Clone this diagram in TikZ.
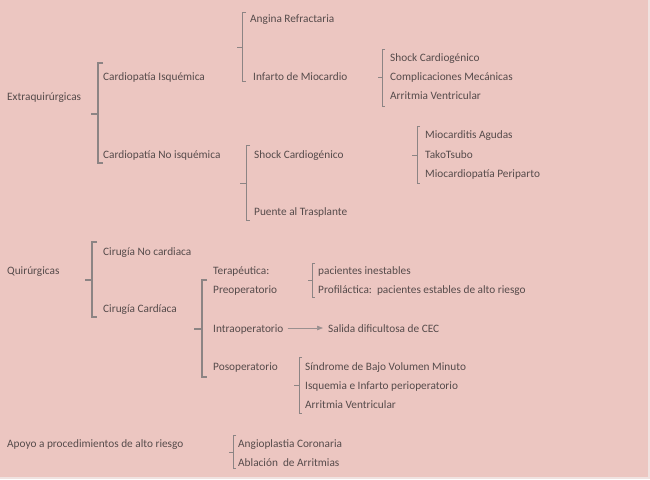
\documentclass[tikz,border=0pt]{standalone}
\usepackage{fontspec}
\setmainfont{Carlito}
\usetikzlibrary{arrows.meta}
\definecolor{bgpink}{HTML}{ECC6C1}
\definecolor{edgepink}{HTML}{F0E2E0}
\definecolor{txt}{HTML}{564B4B}
\definecolor{brk}{HTML}{8C8484}
\definecolor{arr}{HTML}{9A9090}
\tikzset{
  lbl/.style={anchor=base west, inner sep=0pt, text=txt, font=\fontsize{11.3}{13}\selectfont},
  bigbrk/.style={draw=brk, line width=1.6pt},
  smallbrk/.style={draw=brk, line width=0.8pt},
}
% bracket: style, x, top, bottom, mid, tick-left x, top/bottom tick length
\newcommand\mybracket[7]{%
  \draw[#1] (#2+#7,#3) -- (#2,#3) -- (#2,#4) -- (#2+#7,#4);
  \draw[#1] (#2,#5) -- (#6,#5);
}
\begin{document}
\begin{tikzpicture}[x=1pt,y=-1pt]
\useasboundingbox (0,0) rectangle (650,479);
\fill[edgepink] (0,0) rectangle (650,479);
\fill[bgpink] (0,0) rectangle (648,477);

% Extraquirurgicas
\node[lbl] (extra) at (7,100) {Extraquirúrgicas};
\mybracket{bigbrk}{98}{63}{163}{114}{90.5}{5}
\node[lbl] (ci) at (103,80) {Cardiopatía Isquémica};
\node[lbl] (cni) at (103,158) {Cardiopatía No isquémica};

\mybracket{smallbrk}{242}{12}{81}{47}{236.5}{4}
\node[lbl] (angina) at (250,22) {Angina Refractaria};
\node[lbl] (iam) at (253,80) {Infarto de Miocardio};

\mybracket{smallbrk}{382}{49}{106}{77}{377.5}{3}
\node[lbl] (shock1) at (390,61) {Shock Cardiogénico};
\node[lbl] (compl) at (390,80) {Complicaciones Mecánicas};
\node[lbl] (arr1) at (390,99) {Arritmia Ventricular};

\mybracket{smallbrk}{246}{145}{220}{183}{240}{4}
\node[lbl] (shock2) at (254,158) {Shock Cardiogénico};
\node[lbl] (puente) at (254,215) {Puente al Trasplante};

\mybracket{smallbrk}{417}{126}{183}{155}{412}{3}
\node[lbl] (mioc) at (425,138) {Miocarditis Agudas};
\node[lbl] (tako) at (425,158) {TakoTsubo};
\node[lbl] (peri) at (425,177) {Miocardiopatía Periparto};

% Quirurgicas
\node[lbl] (quir) at (7,274) {Quirúrgicas};
\mybracket{bigbrk}{92}{242}{317}{280}{85}{5}
\node[lbl] (cnc) at (103,255) {Cirugía No cardiaca};
\node[lbl] (cc) at (103,312) {Cirugía Cardíaca};

\mybracket{bigbrk}{202}{280}{377}{329}{194}{5}
\node[lbl] (terap) at (213,274) {Terapéutica:};
\node[lbl] (preop) at (213,293) {Preoperatorio};
\node[lbl] (intra) at (213,332) {Intraoperatorio};
\node[lbl] (salida) at (328,332) {Salida dificultosa de CEC};
\draw[draw=arr, fill=arr, line width=0.7pt, shorten >=5pt, shorten <=4pt, -{Triangle[length=6pt,width=4.5pt]}]
  (intra.east |- 0,328) -- (salida.west |- 0,328);
\node[lbl] (posop) at (213,370) {Posoperatorio};

\mybracket{smallbrk}{312}{263}{297}{280}{308}{3}
\node[lbl] (inest) at (318,274) {pacientes inestables};
\node[lbl] (prof) at (318,293) {Profiláctica:\ \ pacientes estables de alto riesgo};

\mybracket{smallbrk}{299}{357}{413}{385}{294}{3}
\node[lbl] (sbvm) at (305,370) {Síndrome de Bajo Volumen Minuto};
\node[lbl] (isq) at (305,389) {Isquemia e Infarto perioperatorio};
\node[lbl] (arr2) at (305,408) {Arritmia Ventricular};

% Apoyo
\node[lbl] (apoyo) at (7,447) {Apoyo a procedimientos de alto riesgo};
\mybracket{smallbrk}{233}{435}{468}{452}{229}{3}
\node[lbl] (angio) at (238,447) {Angioplastia Coronaria};
\node[lbl] (abla) at (238,466) {Ablación\ \ de Arritmias};
\end{tikzpicture}
\end{document}
